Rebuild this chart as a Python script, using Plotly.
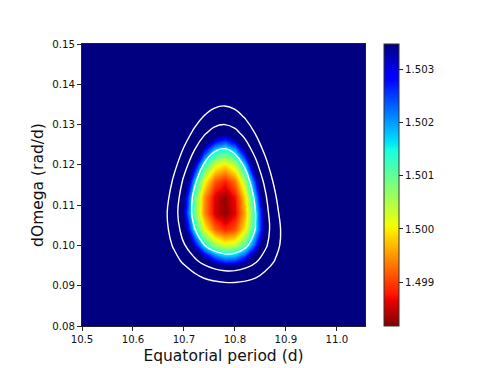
import numpy as np
import plotly.graph_objects as go

# ---- data (grid of chi-square-like values) ----
period = [10.50, 10.62, 10.64, 10.66, 10.68, 10.70, 10.72, 10.74, 10.76, 10.78,
          10.80, 10.82, 10.84, 10.86, 10.88, 10.90, 10.92, 10.94, 11.06]
domega = [0.076, 0.084, 0.088, 0.092, 0.096, 0.100, 0.104, 0.108, 0.112,
          0.116, 0.120, 0.124, 0.128, 0.132, 0.136, 0.140, 0.154]

row_0076 = [1.5882, 1.5621, 1.5590, 1.5562, 1.5538, 1.5518, 1.5502, 1.5489, 1.5480, 1.5474, 1.5472, 1.5474, 1.5479, 1.5489, 1.5502, 1.5520, 1.5542, 1.5567, 1.5804]
row_0084 = [1.5649, 1.5360, 1.5326, 1.5296, 1.5270, 1.5249, 1.5231, 1.5218, 1.5208, 1.5203, 1.5202, 1.5205, 1.5213, 1.5225, 1.5242, 1.5263, 1.5288, 1.5319, 1.5594]
row_0088 = [1.5588, 1.5284, 1.5248, 1.5217, 1.5190, 1.5167, 1.5149, 1.5136, 1.5126, 1.51211, 1.51205, 1.51245, 1.51334, 1.5147, 1.5166, 1.5189, 1.5217, 1.5250, 1.5547]
row_0092 = [1.5555, 1.5233, 1.5195, 1.5163, 1.5135, 1.5111, 1.50924, 1.50784, 1.50690, 1.50643, 1.50642, 1.50692, 1.50794, 1.5095, 1.5115, 1.5141, 1.5172, 1.5207, 1.5530]
row_0096 = [1.5542, 1.5201, 1.5162, 1.5128, 1.5098, 1.5074, 1.50544, 1.50401, 1.50307, 1.50264, 1.50271, 1.50333, 1.50449, 1.5062, 1.5085, 1.5113, 1.5147, 1.5186, 1.5536]
row_0100 = [1.5546, 1.5184, 1.5143, 1.5106, 1.5076, 1.5050, 1.50302, 1.50155, 1.50062, 1.50023, 1.50038, 1.50113, 1.50247, 1.5044, 1.5069, 1.5100, 1.5137, 1.5180, 1.5562]
row_0104 = [1.5563, 1.5178, 1.5134, 1.5096, 1.5064, 1.5037, 1.50162, 1.50011, 1.49920, 1.49885, 1.49911, 1.50001, 1.50153, 1.5037, 1.5065, 1.5099, 1.5140, 1.5187, 1.5604]
row_0108 = [1.5591, 1.5180, 1.5134, 1.5093, 1.5059, 1.5031, 1.50097, 1.49944, 1.49853, 1.49825, 1.49863, 1.49968, 1.50144, 1.5039, 1.5070, 1.5108, 1.5153, 1.5205, 1.5660]
row_0112 = [1.5632, 1.5193, 1.5143, 1.5100, 1.5064, 1.5034, 1.5011, 1.49950, 1.49856, 1.49829, 1.49874, 1.49992, 1.50184, 1.5045, 1.5079, 1.5120, 1.5169, 1.5225, 1.5718]
row_0116 = [1.5685, 1.5213, 1.5160, 1.5114, 1.5075, 1.5043, 1.5019, 1.50014, 1.49913, 1.49884, 1.49932, 1.50059, 1.50265, 1.5055, 1.5092, 1.5136, 1.5188, 1.5249, 1.5777]
row_0120 = [1.5748, 1.5241, 1.5184, 1.5134, 1.5092, 1.5058, 1.5032, 1.50130, 1.50021, 1.49990, 1.50042, 1.50178, 1.50400, 1.5071, 1.5110, 1.5158, 1.5214, 1.5279, 1.5848]
row_0124 = [1.5823, 1.5276, 1.5214, 1.5160, 1.5115, 1.5078, 1.5050, 1.50296, 1.50179, 1.50145, 1.50201, 1.50348, 1.50588, 1.5092, 1.5134, 1.5186, 1.5246, 1.5317, 1.5930]
row_0128 = [1.5910, 1.5318, 1.5251, 1.5193, 1.5144, 1.5104, 1.5073, 1.50514, 1.50388, 1.50352, 1.50411, 1.50571, 1.50830, 1.5119, 1.5165, 1.5221, 1.5286, 1.5362, 1.6026]
row_0132 = [1.6011, 1.5368, 1.5295, 1.5232, 1.5179, 1.5136, 1.5102, 1.50785, 1.50648, 1.50609, 1.50673, 1.50847, 1.51128, 1.5152, 1.5202, 1.5262, 1.5334, 1.5416, 1.6137]
row_0136 = [1.6126, 1.5426, 1.5346, 1.5278, 1.5220, 1.5173, 1.5137, 1.51107, 1.50957, 1.50915, 1.50985, 1.51174, 1.51481, 1.5191, 1.5245, 1.5311, 1.5389, 1.5478, 1.6264]
row_0140 = [1.6259, 1.5493, 1.5406, 1.5331, 1.5268, 1.5216, 1.5176, 1.51483, 1.51318, 1.51272, 1.51349, 1.51555, 1.51891, 1.5236, 1.5295, 1.5367, 1.5452, 1.5550, 1.6409]
row_0154 = [1.6898, 1.5810, 1.5687, 1.5581, 1.5491, 1.5418, 1.5361, 1.5321, 1.5298, 1.5292, 1.5303, 1.5332, 1.5379, 1.5445, 1.5529, 1.5632, 1.5753, 1.5892, 1.7111]

chi_grid = [row_0076, row_0084, row_0088, row_0092, row_0096, row_0100, row_0104,
            row_0108, row_0112, row_0116, row_0120, row_0124, row_0128, row_0132,
            row_0136, row_0140, row_0154]

contour_levels = [1.5015, 1.5048, 1.5081]
color_min, color_max = 1.49818, 1.50347
cbar_ticks = [1.499, 1.500, 1.501, 1.502, 1.503]
x_ticks = [10.5, 10.6, 10.7, 10.8, 10.9, 11.0]
y_ticks = [0.08, 0.09, 0.10, 0.11, 0.12, 0.13, 0.14, 0.15]

# ---- matplotlib "jet_r" colormap ----
jet = {
    "r": [(0, 0), (0.35, 0), (0.66, 1), (0.89, 1), (1, 0.5)],
    "g": [(0, 0), (0.125, 0), (0.375, 1), (0.64, 1), (0.91, 0), (1, 0)],
    "b": [(0, 0.5), (0.11, 1), (0.34, 1), (0.65, 0), (1, 0)],
}
stops = sorted({p for ch in jet.values() for p, _ in ch})
def jet_rgb(t):
    out = []
    for ch in ("r", "g", "b"):
        xs, ys = zip(*jet[ch])
        out.append(int(round(255 * float(np.interp(t, xs, ys)))))
    return "rgb(%d,%d,%d)" % tuple(out)
jet_r = [[1 - t, jet_rgb(t)] for t in stops][::-1]

font = "DejaVu Sans"
tick_font = dict(family=font, size=10.2, color="#111")
title_font = dict(family=font, size=15.5, color="#111")

fig = go.Figure()
fig.add_trace(go.Heatmap(
    x=period, y=domega, z=chi_grid, zmin=color_min, zmax=color_max,
    colorscale=jet_r, zsmooth="best",
    colorbar=dict(
        thickness=15, len=1.0, lenmode="fraction", y=0.5, yanchor="middle",
        x=1.067, xanchor="left", xpad=0, ypad=0,
        outlinecolor="#333", outlinewidth=1,
        tickvals=cbar_ticks, ticktext=["%.3f" % v for v in cbar_ticks],
        ticks="outside", ticklen=4, tickcolor="#222",
        tickfont=tick_font,
    ),
))
fig.add_trace(go.Contour(
    x=period, y=domega, z=chi_grid, showscale=False,
    contours=dict(coloring="lines", start=contour_levels[0],
                  end=contour_levels[-1],
                  size=contour_levels[1] - contour_levels[0]),
    colorscale=[[0, "white"], [1, "white"]],
    line=dict(width=1.4, smoothing=1.3), hoverinfo="skip",
))

axis_common = dict(showline=True, mirror=True, linecolor="#222", linewidth=1,
                   ticks="outside", ticklen=4, tickcolor="#222",
                   showgrid=False, zeroline=False, automargin=False,
                   tickfont=tick_font)
# the page body adds an 8px offset; the figure is sized to compensate
fig.update_layout(
    width=482, height=360,
    margin=dict(l=74, r=125, t=36, b=42, autoexpand=False),
    paper_bgcolor="white", plot_bgcolor="white",
    xaxis=dict(range=[10.5, 11.055], tickvals=x_ticks,
               ticktext=["%.1f" % v for v in x_ticks],
               title=dict(text="Equatorial period (d)", standoff=5, font=title_font),
               **axis_common),
    yaxis=dict(range=[0.08, 0.15], tickvals=y_ticks,
               ticktext=["%.2f" % v for v in y_ticks],
               title=dict(text="dOmega (rad/d)", standoff=4, font=title_font),
               **axis_common),
    showlegend=False,
)
fig.write_html("out.html")
